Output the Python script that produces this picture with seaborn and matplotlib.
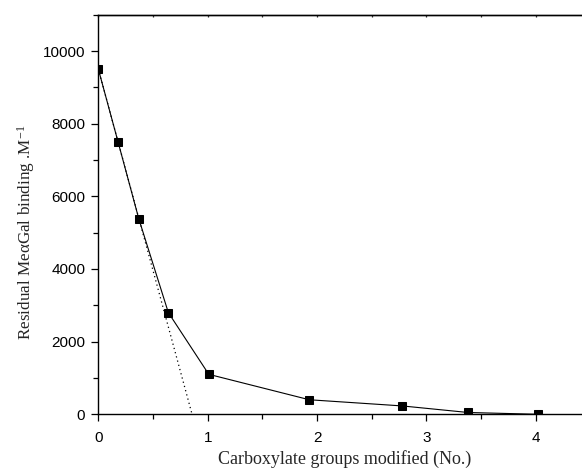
import matplotlib
matplotlib.use("Agg")
import matplotlib.pyplot as plt
from matplotlib.ticker import MultipleLocator
import pandas as pd
import seaborn as sns

# Carboxylate groups modified vs residual binding
groups_modified = [0.0, 0.18, 0.37, 0.64, 1.01, 1.93, 2.78, 3.38, 4.02]
residual_binding = [9500, 7500, 5380, 2800, 1100, 400, 230, 50, 0]

# Initial linear trend (dotted)
trend_x = [0.0, 0.857]
trend_y = [9500, 0]

sns.set_style("ticks")
plt.rcParams["font.family"] = ["Liberation Sans", "DejaVu Sans"]
plt.rcParams["mathtext.fontset"] = "custom"
plt.rcParams["mathtext.rm"] = "Liberation Serif"
plt.rcParams["mathtext.it"] = "Liberation Serif:italic"

fig = plt.figure(figsize=(5.82, 4.71), dpi=100)
ax = fig.add_axes([0.169, 0.1204, 0.8454, 0.8484])

df = pd.DataFrame({"x": groups_modified, "y": residual_binding})
sns.lineplot(data=df, x="x", y="y", ax=ax, color="black", linewidth=0.8,
             marker="s", markersize=5.5, markeredgecolor="black",
             markerfacecolor="black", estimator=None, sort=False)

trend = pd.DataFrame({"x": trend_x, "y": trend_y})
sns.lineplot(data=trend, x="x", y="y", ax=ax, color="black", linewidth=0.9,
             linestyle=(0, (1, 2.5)), estimator=None, sort=False)

ax.set_xlim(0, 4.5)
ax.set_ylim(0, 11000)
ax.xaxis.set_major_locator(MultipleLocator(1))
ax.xaxis.set_minor_locator(MultipleLocator(0.5))
ax.yaxis.set_major_locator(MultipleLocator(2000))
ax.yaxis.set_minor_locator(MultipleLocator(1000))

for s in ["left", "bottom", "top"]:
    ax.spines[s].set_visible(True)
    ax.spines[s].set_linewidth(1.0)
    ax.spines[s].set_color("black")
ax.spines["right"].set_visible(False)

ax.tick_params(axis="both", which="major", direction="out", length=5, width=0.9,
               labelsize=11, colors="black")
ax.tick_params(axis="both", which="minor", direction="out", length=3.5, width=0.9,
               colors="black")
ax.tick_params(axis="x", which="major", pad=7)
ax.tick_params(axis="y", which="major", pad=4.5)
ax.tick_params(axis="y", which="both", right=False)

# tiny inward ticks along the top frame
top = ax.secondary_xaxis("top")
top.xaxis.set_major_locator(MultipleLocator(0.5))
top.tick_params(direction="in", length=1.3, width=0.9, labeltop=False)
top.spines["top"].set_linewidth(1.0)

serif = ["Liberation Serif", "DejaVu Serif"]
ax.set_xlabel("Carboxylate groups modified (No.)", family=serif, fontsize=13,
              labelpad=4)
ax.set_ylabel("Residual MeαGal binding .M$^{-1}$", family=serif,
              fontsize=12.3)
ax.yaxis.set_label_coords(-0.125, 0.456)

fig.savefig("out.png", dpi=100)
